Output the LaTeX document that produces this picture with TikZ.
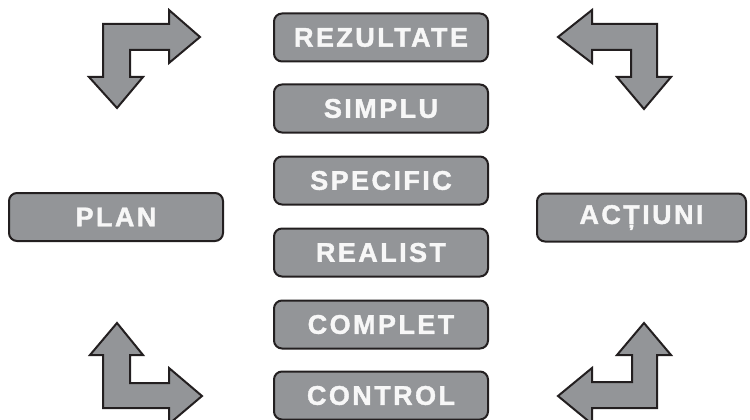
\documentclass[tikz,border=0pt]{standalone}
\usepackage{fontspec}
\newfontfamily\labelfont{Liberation Sans}[LetterSpace=9, BoldFeatures={FakeBold=1.5}]
\definecolor{boxgray}{HTML}{939598}
\definecolor{inkdark}{HTML}{231F20}
\definecolor{labelwhite}{HTML}{F7F7F7}
\tikzset{
  card/.style={draw=inkdark, line width=2pt, fill=boxgray, rounded corners=8pt,
    minimum width=214pt, minimum height=48pt, inner sep=0pt,
    text=labelwhite, font=\labelfont\bfseries\fontsize{27}{27}\selectfont},
  bentarrow/.style={draw=inkdark, line width=2pt, fill=boxgray, line join=miter}
}
\begin{document}
\begin{tikzpicture}[x=1pt, y=-1pt]
\useasboundingbox (0,0) rectangle (750,420);
\clip (0,0) rectangle (750,420);

% central column
\node[card] (rez)  at (381,37.5)  {REZULTATE};
\node[card] (simp) at (381,108.5) {SIMPLU};
\node[card] (spec) at (381,180.5) {SPECIFIC};
\node[card] (real) at (381,252.5) {REALIST};
\node[card] (comp) at (381,324.5) {COMPLET};
\node[card] (ctrl) at (381,395.5) {CONTROL};

% side cards
\node[card] (plan) at (116,217) {PLAN};
\node[card, minimum width=209pt] (act) at (641.5,217.5) {ACȚIUNI};

% top-left bent arrow (right and down)
\draw[bentarrow] (89,77) -- (117,108) -- (143,77) -- (130,77) -- (130,50)
  -- (169,50) -- (169,63) -- (200,37) -- (169,10) -- (169,24) -- (103,24)
  -- (103,77) -- cycle;

% bottom-left bent arrow (up and right)
\draw[bentarrow] (90,355) -- (117,323) -- (143,355) -- (130,355) -- (130,383)
  -- (169,383) -- (169,368) -- (202,396) -- (169,424) -- (169,408) -- (103,408)
  -- (103,355) -- cycle;

% top-right bent arrow (left and down)
\draw[bentarrow] (558,37) -- (592,10) -- (592,24) -- (657,24) -- (657,77)
  -- (671,77) -- (644,109) -- (617,77) -- (631,77) -- (631,50) -- (592,50)
  -- (592,63) -- cycle;

% bottom-right bent arrow (up and left)
\draw[bentarrow] (644,323) -- (671,355) -- (657,355) -- (657,408) -- (592,408)
  -- (592,424) -- (558,396) -- (592,368) -- (592,382) -- (632,382) -- (632,355)
  -- (617,355) -- cycle;
\end{tikzpicture}
\end{document}
